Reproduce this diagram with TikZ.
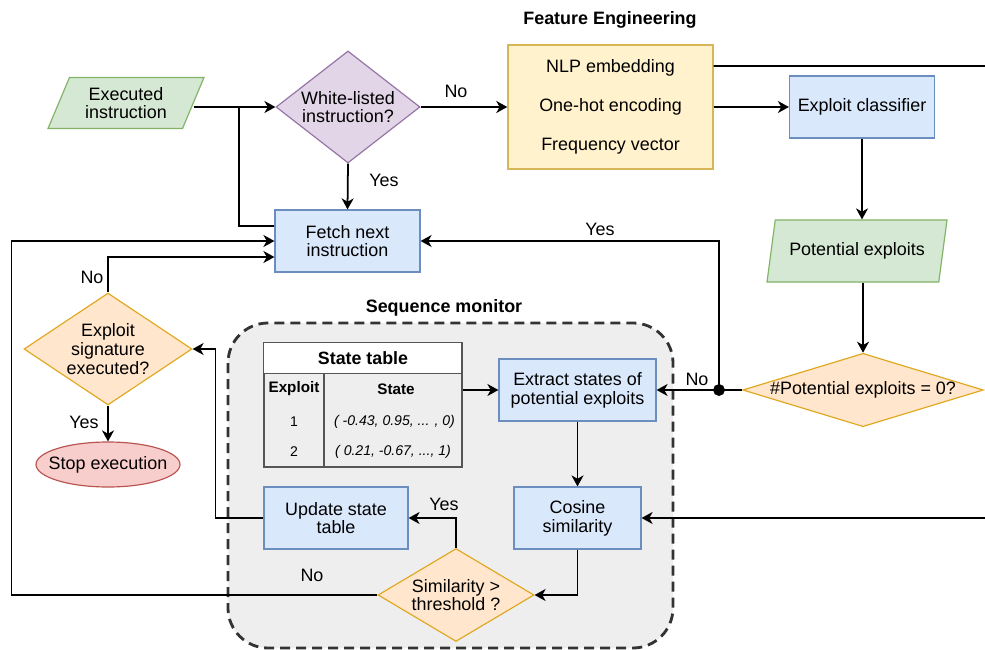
\documentclass[tikz,border=0pt]{standalone}
\usepackage{fontspec}
\setmainfont{Liberation Sans}
\usepackage{xcolor}
\usetikzlibrary{shapes.geometric,arrows.meta}

\definecolor{procfill}{HTML}{DAE8FC}
\definecolor{procline}{HTML}{6C8EBF}
\definecolor{iofill}{HTML}{D5E8D4}
\definecolor{ioline}{HTML}{82B366}
\definecolor{askfill}{HTML}{FFE6CC}
\definecolor{askline}{HTML}{E0A820}
\definecolor{wlfill}{HTML}{E1D5E7}
\definecolor{wlline}{HTML}{9673A6}
\definecolor{featfill}{HTML}{FFF2CC}
\definecolor{featline}{HTML}{D6B656}
\definecolor{stopfill}{HTML}{F8CECC}
\definecolor{stopline}{HTML}{B85450}
\definecolor{monfill}{HTML}{EEEEEE}
\definecolor{monline}{HTML}{333333}
\definecolor{tabline}{HTML}{555555}

\begin{document}
\begin{tikzpicture}[x=0.03cm, y=-0.03cm,
    font=\fontsize{15.3pt}{16pt}\selectfont,
    proc/.style={draw=procline, fill=procfill, line width=1pt, align=center, minimum height=1.86cm, inner sep=2pt},
    io/.style={trapezium, trapezium left angle=65, trapezium right angle=115, trapezium stretches=true, draw=ioline, fill=iofill, line width=1pt, align=center, inner sep=1pt},
    ask/.style={diamond, draw=askline, fill=askfill, line width=1pt, align=center, inner sep=0pt},
    flow/.style={line width=1.5pt, -{Stealth[length=0.33cm, width=0.36cm, inset=0.1cm]}},
    link/.style={line width=1.5pt},
    lbl/.style={inner sep=0pt},
    tabtext/.style={inner sep=0pt, font=\fontsize{12pt}{14pt}\selectfont\itshape},
    tabhead/.style={inner sep=0pt, font=\fontsize{13pt}{15pt}\selectfont\bfseries}]

    \useasboundingbox (0,0) rectangle (985,650);

    % Sequence monitor container

    \draw[monline, fill=monfill, line width=2.4pt, dash pattern=on 0.3cm off 0.18cm, rounded corners=1.2cm] (228,323) rectangle (673,648);

    \node[lbl, font=\fontsize{15.3pt}{16pt}\selectfont\bfseries] (seqtitle) at (444,308) {Sequence monitor};

    \node[lbl, font=\fontsize{15.3pt}{16pt}\selectfont\bfseries] (feattitle) at (610,20) {Feature Engineering};

    % State table

    \node[draw=tabline, line width=1.2pt, minimum width=5.94cm, minimum height=3.72cm, inner sep=0pt] (stab) at (363,405) {};

    \draw[tabline, line width=1.2pt, fill=white] (stab.north west) rectangle ++(198,31);

    \draw[tabline, line width=1.2pt] (324,374) -- (324,467);

    \node[lbl, font=\fontsize{15.2pt}{16pt}\selectfont\bfseries] (stabtitle) at (363,358.5) {State table};

    \node[tabhead] (colexp) at (294,389) {Exploit};

    \node[tabhead] (colstate) at (396,389) {State};

    \node[tabtext, font=\fontsize{12pt}{14pt}\selectfont] (rowa) at (294,422) {1};

    \node[tabtext, font=\fontsize{12pt}{14pt}\selectfont] (rowb) at (294,452) {2};

    \node[tabtext] (vala) at (394.5,422) {( -0.43, 0.95, ... , 0)};

    \node[tabtext] (valb) at (393,452) {( 0.21, -0.67, ..., 1)};

    % Nodes

    \node[io, minimum width=4.68cm, minimum height=1.53cm] (exec) at (126,103) {Executed\\instruction};

    \node[ask, draw=wlline, fill=wlfill, aspect=1.29, minimum width=4.32cm, minimum height=3.36cm] (wl) at (348,107) {White-listed\\instruction?};

    \node[proc, minimum width=4.35cm] (fetch) at (347.5,241) {Fetch next\\instruction};

    \node[draw=featline, fill=featfill, line width=1.2pt, align=center, minimum width=6.15cm, minimum height=3.72cm] (feat) at (610.5,107) {NLP embedding\\[17pt]One-hot encoding\\[17pt]Frequency vector};

    \node[proc, minimum width=4.35cm] (cls) at (862,107) {Exploit classifier};

    \node[io, trapezium left angle=70, trapezium right angle=110, minimum width=5.4cm, minimum height=1.86cm] (pot) at (857,251) {Potential exploits};

    \node[ask, aspect=3.28, minimum width=7.08cm, minimum height=2.16cm] (zero) at (863,390) {\#Potential exploits = 0?};

    \node[proc, minimum width=4.71cm] (ext) at (577.5,390) {Extract states of\\potential exploits};

    \node[proc, minimum width=3.81cm] (cos) at (577.5,518) {Cosine\\similarity};

    \node[ask, aspect=1.68, minimum width=4.68cm, minimum height=2.79cm] (sim) at (456,595) {Similarity >\\threshold ?};

    \node[proc, minimum width=4.32cm] (upd) at (336,518) {Update state\\table};

    \node[ask, aspect=1.5, minimum width=5.04cm, minimum height=3.36cm] (sig) at (108,349) {Exploit\\signature\\executed?};

    \node[ellipse, draw=stopline, fill=stopfill, line width=1pt, minimum width=4.32cm, minimum height=1.35cm, inner xsep=-0.27cm, inner ysep=0pt] (stop) at (108,464.5) {Stop execution};

    \coordinate (split) at (239,107);

    \coordinate (dot) at (719,390);

    \coordinate (rim) at (992,66);

    % Connectors

    \draw[flow] (exec.east |- wl.west) -- (wl.west);
    \draw[link] (split) |- ([yshift=0.45cm]fetch.west);
    \draw[flow] (wl.east) -- (feat.west);
    \draw[flow] (wl.south) -- (fetch.north);
    \draw[flow] (feat.east) -- (cls.west);
    \draw[flow] ([yshift=1.23cm]feat.east) -- (rim) |- (cos.east);
    \draw[flow] (cls.south) -- (pot.north -| cls.south);
    \draw[flow] (pot.south -| zero.north) -- (zero.north);
    \draw[flow] (zero.west) -- (ext.east);
    \draw[flow] (dot) |- (fetch.east);
    \filldraw[fill=black] (dot) circle (0.17cm);
    \draw[flow] (stab.east |- ext.west) -- (ext.west);
    \draw[flow] (ext.south) -- (cos.north);
    \draw[flow] (cos.south) |- (sim.east);
    \draw[flow] (sim.north) |- (upd.east);
    \draw[flow] (upd.west) -- ++(-48,0) |- (sig.east);
    \draw[flow] (sig.south) -- (stop.north);
    \draw[flow] (sig.north) |- ([yshift=-0.48cm]fetch.west);
    \draw[flow] (sim.west) -- ++(-366,0) |- (fetch.west);

    % Labels

    \node[lbl] (nowl) at (456,91) {No};
    \node[lbl] (yeswl) at (384,180) {Yes};
    \node[lbl] (yeszero) at (600,229) {Yes};
    \node[lbl] (nozero) at (697,379) {No};
    \node[lbl] (nosig) at (92,277) {No};
    \node[lbl] (yessig) at (84,422) {Yes};
    \node[lbl] (yessim) at (444,504) {Yes};
    \node[lbl] (nosim) at (312,575) {No};

\end{tikzpicture}
\end{document}
